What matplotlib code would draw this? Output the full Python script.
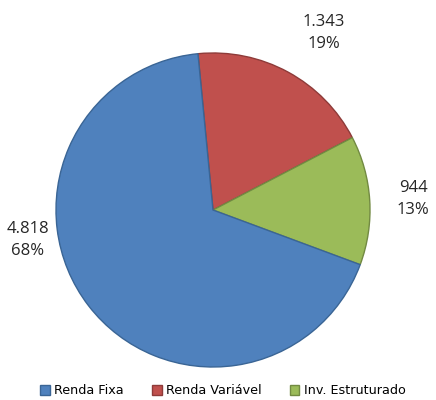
import matplotlib
matplotlib.use("Agg")
import matplotlib.pyplot as plt
from matplotlib.patches import Patch

categories = ["Renda Fixa", "Renda Variável", "Inv. Estruturado"]
values = [4818, 1343, 944]
value_labels = ["4.818", "1.343", "944"]
colors = ["#4F81BD", "#C0504D", "#9BBB59"]
edges = ["#3A6595", "#8E3B39", "#728A42"]

plt.rcParams['font.family'] = ['Open Sans', 'DejaVu Sans']

W, H = 436, 400
fig = plt.figure(figsize=(W/100, H/100), dpi=100)
ax = fig.add_axes([0, 0, 1, 1])

cx, cy, r = 213, 210, 157  # pixels from top-left
total = sum(values)
# draw order clockwise starting at top: Renda Variável, Inv. Estruturado, Renda Fixa
order = [1, 2, 0]
wedges, _ = ax.pie([values[i] for i in order], colors=[colors[i] for i in order],
                   startangle=95.5, counterclock=False,
                   wedgeprops=dict(linewidth=1.0))
for w, i in zip(wedges, order):
    w.set_edgecolor(edges[i])

ax.set_xlim(-cx / r, (W - cx) / r)
ax.set_ylim(-(H - cy) / r, cy / r)
ax.set_aspect('equal', adjustable='box')
ax.axis('off')

label_pos = {0: (28, 240), 1: (324, 33), 2: (413, 199)}
for i in range(3):
    pct = round(values[i] / total * 100)
    px, py = label_pos[i]
    fig.text(px / W, 1 - py / H, f"{value_labels[i]}\n{pct}%", ha='center', va='center',
             fontsize=12, color='#262626', linespacing=1.55)

handles = [Patch(facecolor=colors[i], edgecolor=edges[i], label=categories[i]) for i in range(3)]
fig.legend(handles=handles, loc='center', bbox_to_anchor=(223 / W, 1 - 391 / H), ncol=3,
           frameon=False, handlelength=0.75, handleheight=0.75,
           handletextpad=0.35, columnspacing=2.2,
           prop=dict(family='DejaVu Sans', size=9.2))

fig.savefig("out.png", dpi=100)
